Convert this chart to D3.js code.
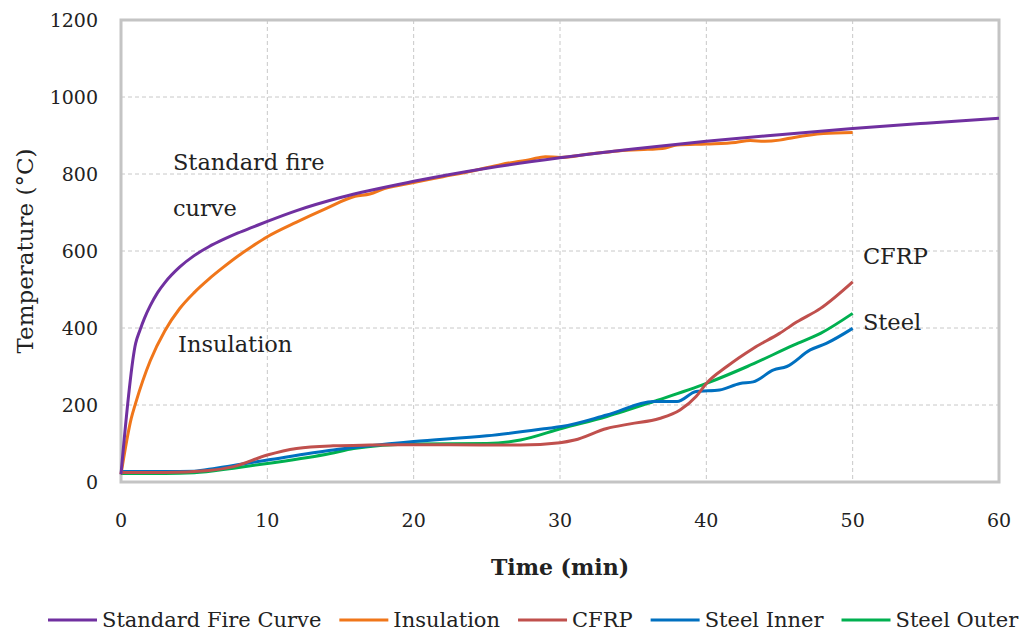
<!DOCTYPE html>
<html>
<head>
<meta charset="utf-8">
<script src="https://cdn.jsdelivr.net/npm/d3@7"></script>
<style>
  body { margin: 0; background: #fff; }
  svg text { font-family: "DejaVu Serif", serif; fill: #222; }
  .grid line { stroke: #c8c8c8; stroke-width: 1px; stroke-dasharray: 4,3; }
  .tick-label { font-size: 19px; }
  .note { font-size: 22.5px; }
</style>
</head>
<body>
<div id="chart"></div>
<script>
// Standard fire curve
const fireTime = [0, 1, 1.3, 1.6, 2, 2.5, 3, 4, 5, 6, 7, 8, 9, 10, 12, 15, 20, 25, 30, 35, 40, 45, 50, 55, 60];
const fireTemp = [20, 360, 395, 425, 458, 492, 518, 558, 588, 611, 630, 647, 662, 677, 705, 739, 781, 815, 842, 865, 885, 902, 918, 932, 945];

// Insulation
const insTime = [0, 0.7, 1, 2, 3, 4, 5, 6, 7, 8, 9, 10, 12, 14, 16, 17, 18, 20, 22, 24, 26, 28, 29, 30, 32, 34, 36, 37, 38, 40, 42, 43, 44, 45, 46, 48, 50];
const insTemp = [20, 165, 205, 315, 393, 450, 492, 527, 558, 587, 613, 637, 675, 710, 742, 748, 762, 778, 793, 808, 825, 838, 845, 843, 852, 860, 864, 866, 875, 878, 882, 887, 885, 888, 895, 905, 908];

// CFRP
const cfrpTime = [0, 3, 6, 7.7, 10, 12, 14.5, 17, 20, 25, 27.3, 30, 31, 33.2, 34.8, 36.8, 38.2, 39.3, 40, 41.4, 43.2, 45, 46.2, 47.8, 50];
const cfrpTemp = [25, 25, 30, 40, 70, 87, 94, 96, 97, 96, 96, 102, 109, 139, 151, 165, 187, 222, 256, 300, 347, 386, 416, 451, 520];

// Steel inner
const innerTime = [0, 3, 5, 6.5, 10, 14.5, 20, 25, 29.1, 30.1, 33.2, 36.4, 38, 39.3, 40.9, 42.3, 43.2, 44.6, 45.5, 47.1, 48.2, 50];
const innerTemp = [27, 27, 28, 36, 57, 83, 105, 120, 139, 144, 174, 209, 209, 235, 239, 256, 260, 291, 300, 343, 360, 399];

// Steel outer
const outerTime = [0, 3, 5, 7.7, 10, 14.3, 15.9, 20, 25, 27.3, 30.1, 33.2, 36.4, 40, 42.8, 46, 47.8, 50];
const outerTemp = [22, 22, 24, 36, 48, 74, 87, 99, 100, 109, 139, 170, 209, 256, 300, 356, 386, 438];

const xTicks = [0, 10, 20, 30, 40, 50, 60];
const yTicks = [0, 200, 400, 600, 800, 1000, 1200];

const seriesNames = ["Standard Fire Curve", "Insulation", "CFRP", "Steel Inner", "Steel Outer"];
const seriesColors = ["#7030a0", "#f0761a", "#c0504d", "#0070c0", "#00b050"];

const series = [
    {name: seriesNames[0], t: fireTime, v: fireTemp},
    {name: seriesNames[1], t: insTime, v: insTemp},
    {name: seriesNames[2], t: cfrpTime, v: cfrpTemp},
    {name: seriesNames[3], t: innerTime, v: innerTemp},
    {name: seriesNames[4], t: outerTime, v: outerTemp}
].map((s, i) => ({...s, color: seriesColors[i], points: s.t.map((t, j) => [t, s.v[j]])}));

const width = 1021;
const height = 637;
const margin = {left: 121, top: 20, right: 22, bottom: 155};

const svg = d3.select("#chart")
    .append("svg")
    .attr("width", width)
    .attr("height", height);

const xScale = d3.scaleLinear()
    .domain([0, 60])
    .range([margin.left, width - margin.right]);

const yScale = d3.scaleLinear()
    .domain([0, 1200])
    .range([height - margin.bottom, margin.top]);

// gridlines
const grid = svg.append("g").attr("class", "grid");
grid.selectAll(".vgrid")
    .data(xTicks.slice(1, -1))
    .join("line")
        .attr("x1", d => xScale(d))
        .attr("x2", d => xScale(d))
        .attr("y1", yScale(1200))
        .attr("y2", yScale(0));
grid.selectAll(".hgrid")
    .data(yTicks.slice(1, -1))
    .join("line")
        .attr("x1", xScale(0))
        .attr("x2", xScale(60))
        .attr("y1", d => yScale(d))
        .attr("y2", d => yScale(d));

// plot border
svg.append("rect")
    .attr("x", xScale(0))
    .attr("y", yScale(1200))
    .attr("width", xScale(60) - xScale(0))
    .attr("height", yScale(0) - yScale(1200))
    .attr("fill", "none")
    .attr("stroke", "#c4c4c4")
    .attr("stroke-width", 3);

// tick labels
svg.selectAll(".y-label")
    .data(yTicks)
    .join("text")
        .attr("class", "tick-label")
        .attr("text-anchor", "end")
        .attr("x", xScale(0) - 23)
        .attr("y", d => yScale(d) + 7)
        .text(d => d);

svg.selectAll(".x-label")
    .data(xTicks)
    .join("text")
        .attr("class", "tick-label")
        .attr("text-anchor", "middle")
        .attr("x", d => xScale(d))
        .attr("y", yScale(0) + 45)
        .text(d => d);

// axis titles
svg.append("text")
    .attr("transform", `translate(33, ${(yScale(0) + yScale(1200)) / 2}) rotate(-90)`)
    .attr("text-anchor", "middle")
    .style("font-size", "23px")
    .text("Temperature (°C)");

svg.append("text")
    .attr("x", (xScale(0) + xScale(60)) / 2)
    .attr("y", 575)
    .attr("text-anchor", "middle")
    .style("font-size", "22px")
    .style("font-weight", 700)
    .text("Time (min)");

// lines
const line = d3.line()
    .x(d => xScale(d[0]))
    .y(d => yScale(d[1]))
    .curve(d3.curveMonotoneX);

svg.selectAll(".series")
    .data(series.slice().reverse())
    .join("path")
        .attr("class", "series")
        .attr("fill", "none")
        .attr("stroke", d => d.color)
        .attr("stroke-width", 3)
        .attr("stroke-linejoin", "round")
        .attr("d", d => line(d.points));

// annotations
const notes = [
    {text: "Standard fire", x: 3.55, y: 810},
    {text: "curve", x: 3.55, y: 692},
    {text: "Insulation", x: 3.9, y: 338},
    {text: "CFRP", x: 50.7, y: 565},
    {text: "Steel", x: 50.7, y: 395}
];
svg.selectAll(".note")
    .data(notes)
    .join("text")
        .attr("class", "note")
        .attr("x", d => xScale(d.x))
        .attr("y", d => yScale(d.y))
        .text(d => d.text);

// legend
const legend = svg.append("g")
    .attr("transform", "translate(48, 620)");
let lx = 0;
series.forEach(s => {
    const g = legend.append("g").attr("transform", `translate(${lx}, 0)`);
    g.append("line")
        .attr("x1", 0)
        .attr("x2", 49)
        .attr("y1", 0)
        .attr("y2", 0)
        .attr("stroke", s.color)
        .attr("stroke-width", 3);
    const t = g.append("text")
        .attr("x", 54)
        .attr("y", 7)
        .style("font-size", "21px")
        .text(s.name);
    lx += 54 + t.node().getComputedTextLength() + 18;
});
</script>
</body>
</html>
